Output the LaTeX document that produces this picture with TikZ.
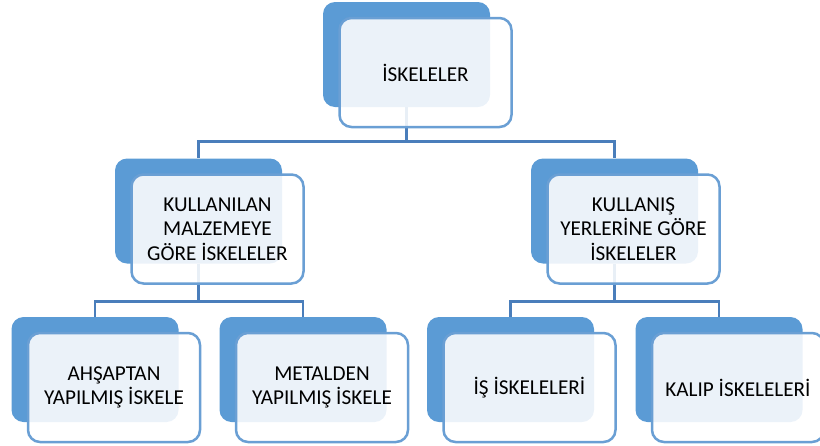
\documentclass[tikz,border=0pt]{standalone}
\usepackage{fontspec}
\setmainfont{Carlito}
\definecolor{backblue}{HTML}{5B9BD5}
\definecolor{edgeblue}{HTML}{6A9FD4}
\definecolor{linkblue}{HTML}{4A7EBB}
\tikzset{
  backbox/.style={fill=backblue, draw=none, rounded corners=12pt, minimum width=167pt, minimum height=105pt, inner sep=0pt},
  frontbox/.style={fill=white, fill opacity=0.88, text opacity=1, draw=edgeblue, line width=2.5pt, rounded corners=12pt, minimum width=172pt, minimum height=109pt, inner sep=0pt, align=center, font=\fontsize{21.2}{24.5}\selectfont, text=black},
  link/.style={draw=linkblue, line width=2.8pt}
}
\begin{document}
\begin{tikzpicture}[x=1pt,y=-1pt]
\useasboundingbox (0,0) rectangle (820,445);
% back boxes
\node[backbox] (topb) at (406.5,54.5) {};
\node[backbox] (midLb) at (198.5,211) {};
\node[backbox] (midRb) at (614.5,211) {};
\node[backbox] (b1b) at (95,369.5) {};
\node[backbox] (b2b) at (303,369.5) {};
\node[backbox] (b3b) at (510.5,369.5) {};
\node[backbox] (b4b) at (719,369.5) {};
% connectors
\draw[link] (topb.south) -- ++(0,34) -| (midLb.north);
\draw[link] (topb.south) -- ++(0,34) -| (midRb.north);
\draw[link] (midLb.south) -- ++(0,38) -| (b1b.north);
\draw[link] (midLb.south) -- ++(0,38) -| (b2b.north);
\draw[link] (midRb.south) -- ++(0,38) -| (b3b.north);
\draw[link] (midRb.south) -- ++(0,38) -| (b4b.north);
% front boxes
\node[frontbox] (topf) at (425.5,72.5) {İSKELELER};
\node[frontbox] (midLf) at (217.5,229) {KULLANILAN\\MALZEMEYE\\GÖRE İSKELELER};
\node[frontbox] (midRf) at (633.5,229) {KULLANIŞ\\YERLERİNE GÖRE\\İSKELELER};
\node[frontbox] (b1f) at (114,387.5) {AHŞAPTAN\\YAPILMIŞ İSKELE};
\node[frontbox] (b2f) at (322,387.5) {METALDEN\\YAPILMIŞ İSKELE};
\node[frontbox] (b3f) at (529.5,387.5) {İŞ İSKELELERİ};
\node[frontbox] (b4f) at (738,387.5) {KALIP İSKELELERİ};
\end{tikzpicture}
\end{document}
